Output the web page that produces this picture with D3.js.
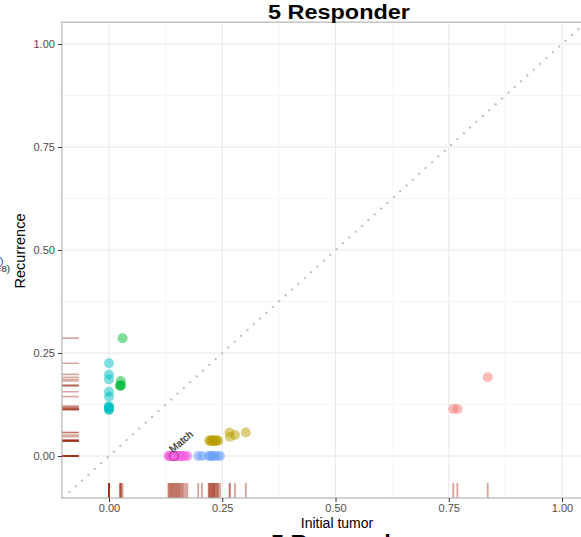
<!DOCTYPE html>
<html>
<head>
<meta charset="utf-8">
<script src="https://cdn.jsdelivr.net/npm/d3@7"></script>
<style>
  html, body { margin: 0; padding: 0; background: #fff; }
  svg { display: block; }
  text { font-family: "Liberation Sans", Arial, Helvetica, sans-serif; }
</style>
</head>
<body>
<svg id="chart" width="581" height="537"></svg>
<script>
// ---- data ----
const groups = ["A", "B", "C", "D", "E", "F"];
const groupColors = ["#F8766D", "#B79F00", "#00BA38", "#00BFC4", "#619CFF", "#F564E3"];

const salmonX = [0.836, 0.760, 0.769];
const salmonY = [0.191, 0.114, 0.114];

const oliveX = [0.221, 0.224, 0.226, 0.228, 0.230, 0.232, 0.234, 0.236, 0.238, 0.241, 0.266, 0.267, 0.278, 0.302];
const oliveY = [0.037, 0.038, 0.036, 0.038, 0.037, 0.036, 0.038, 0.037, 0.038, 0.037, 0.057, 0.047, 0.051, 0.057];

const greenX = [0.030, 0.026, 0.024, 0.027, 0.025];
const greenY = [0.286, 0.182, 0.171, 0.172, 0.170];

const cyanX = [0, 0, 0, 0, 0, 0, 0, 0, 0, 0, 0];
const cyanY = [0.225, 0.198, 0.186, 0.156, 0.144, 0.121, 0.119, 0.117, 0.115, 0.113, 0.112];

const blueX = [0.197, 0.205, 0.220, 0.223, 0.228, 0.232, 0.240, 0.245];
const blueY = [0, 0, 0, 0, 0, 0, 0, 0];

const magentaX = [0.131, 0.133, 0.135, 0.137, 0.139, 0.141, 0.143, 0.145, 0.147, 0.149, 0.151, 0.153, 0.155, 0.157, 0.160, 0.162, 0.165, 0.169, 0.173];
const magentaY = [0, 0, 0, 0, 0, 0, 0, 0, 0, 0, 0, 0, 0, 0, 0, 0, 0, 0, 0];

const highlightX = [0.143];
const highlightY = [0];
const highlightLabel = ["Match"];

const tickValues = [0, 0.25, 0.5, 0.75, 1.0];
const tickLabels = ["0.00", "0.25", "0.50", "0.75", "1.00"];
const minorTicks = [-0.125, 0.125, 0.375, 0.625, 0.875];

const titleText = "5 Responder";
const xLabel = "Initial tumor";
const yLabel = "Recurrence";

// ---- build ----
const seriesX = [salmonX, oliveX, greenX, cyanX, blueX, magentaX];
const seriesY = [salmonY, oliveY, greenY, cyanY, blueY, magentaY];
const points = [];
seriesX.forEach((xs, gi) => xs.forEach((xv, i) => points.push({g: gi, x: xv, y: seriesY[gi][i]})));

const svg = d3.select("#chart");
const x = d3.scaleLinear().domain([0, 1]).range([109, 562]);
const y = d3.scaleLinear().domain([0, 1]).range([456, 44]);
const xMin = -0.104, xMax = 1.053, yMin = -0.102, yMax = 1.053;
const pL = x(xMin), pR = x(xMax), pT = y(yMax), pB = y(yMin);

svg.append("defs").append("clipPath").attr("id", "clip")
  .append("rect").attr("x", pL).attr("y", pT).attr("width", pR - pL).attr("height", pB - pT);

const panel = svg.append("g").attr("clip-path", "url(#clip)");
panel.append("rect").attr("x", pL).attr("y", pT).attr("width", pR - pL).attr("height", pB - pT).attr("fill", "#fff");

// minor grid
panel.selectAll(".mgx").data(minorTicks).join("line")
  .attr("x1", d => x(d)).attr("x2", d => x(d)).attr("y1", pT).attr("y2", pB)
  .attr("stroke", "#f3f3f3").attr("stroke-width", 0.8);
panel.selectAll(".mgy").data(minorTicks).join("line")
  .attr("y1", d => y(d)).attr("y2", d => y(d)).attr("x1", pL).attr("x2", pR)
  .attr("stroke", "#f3f3f3").attr("stroke-width", 0.8);
// major grid
panel.selectAll(".gx").data(tickValues).join("line")
  .attr("x1", d => x(d)).attr("x2", d => x(d)).attr("y1", pT).attr("y2", pB)
  .attr("stroke", "#e8e8e8").attr("stroke-width", 1);
panel.selectAll(".gy").data(tickValues).join("line")
  .attr("y1", d => y(d)).attr("y2", d => y(d)).attr("x1", pL).attr("x2", pR)
  .attr("stroke", "#e8e8e8").attr("stroke-width", 1);

// diagonal y = x
panel.append("line")
  .attr("x1", x(-0.2)).attr("y1", y(-0.2)).attr("x2", x(1.2)).attr("y2", y(1.2))
  .attr("stroke", "#bdbdbd").attr("stroke-width", 2.2)
  .attr("stroke-dasharray", "0.1,8.5").attr("stroke-linecap", "round");

// rugs
const rugColor = "#a2341c";
panel.selectAll(".rugx").data(points).join("line")
  .attr("x1", d => x(d.x)).attr("x2", d => x(d.x))
  .attr("y1", pB).attr("y2", pB - 15)
  .attr("stroke", rugColor).attr("stroke-opacity", 0.45).attr("stroke-width", 1.8);
panel.selectAll(".rugy").data(points).join("line")
  .attr("y1", d => y(d.y)).attr("y2", d => y(d.y))
  .attr("x1", pL).attr("x2", pL + 17)
  .attr("stroke", rugColor).attr("stroke-opacity", 0.42).attr("stroke-width", 1.6);

// points
panel.selectAll(".pt").data(points).join("circle")
  .attr("cx", d => x(d.x)).attr("cy", d => y(d.y)).attr("r", 5)
  .attr("fill", d => groupColors[d.g]).attr("fill-opacity", 0.5);

// highlight
panel.selectAll(".hl").data(highlightX).join("circle")
  .attr("cx", d => x(d)).attr("cy", (d, i) => y(highlightY[i])).attr("r", 4.5)
  .attr("fill", "none").attr("stroke", "#a8327f").attr("stroke-width", 1);
panel.selectAll(".hlt").data(highlightX).join("text")
  .attr("transform", (d, i) => `translate(${x(d) - 1},${y(highlightY[i]) - 3}) rotate(-40)`)
  .attr("font-size", 10).attr("fill", "#222").attr("stroke", "#555").attr("stroke-width", 0.3)
  .text((d, i) => highlightLabel[i]);

// panel border
svg.append("rect").attr("x", pL).attr("y", pT).attr("width", pR - pL).attr("height", pB - pT)
  .attr("fill", "none").attr("stroke", "#b5b5b5").attr("stroke-width", 1.2);

// axes
const xAxis = svg.append("g").attr("transform", `translate(0,${pB})`)
  .call(d3.axisBottom(x).tickValues(tickValues).tickFormat((d, i) => tickLabels[i]).tickSize(4).tickPadding(2));
const yAxis = svg.append("g").attr("transform", `translate(${pL},0)`)
  .call(d3.axisLeft(y).tickValues(tickValues).tickFormat((d, i) => tickLabels[i]).tickSize(4).tickPadding(3));
[xAxis, yAxis].forEach(a => {
  a.select(".domain").remove();
  a.selectAll(".tick line").attr("stroke", "#333");
  a.selectAll(".tick text").attr("fill", "#4d4d4d").attr("font-size", 11)
    .style("font-family", "'Liberation Sans', Arial, sans-serif");
});

// titles
svg.append("text").attr("x", 268).attr("y", 19)
  .attr("font-size", 19.5).attr("font-weight", "bold").attr("fill", "#000")
  .attr("textLength", 142).attr("lengthAdjust", "spacingAndGlyphs").text(titleText);
svg.append("text").attr("x", 337).attr("y", 527.5).attr("text-anchor", "middle")
  .attr("font-size", 14).attr("fill", "#000").text(xLabel);
svg.append("text").attr("transform", "translate(25,251) rotate(-90)").attr("text-anchor", "middle")
  .attr("font-size", 14.5).attr("fill", "#000").text(yLabel);
// next panel title, partly visible at the bottom edge
svg.append("text").attr("x", 271).attr("y", 549)
  .attr("font-size", 19.5).attr("font-weight", "bold").attr("fill", "#000")
  .attr("textLength", 142).attr("lengthAdjust", "spacingAndGlyphs").text(titleText);
// legend remnants at far left (partly visible)
svg.append("text").attr("x", 10).attr("y", 272).attr("text-anchor", "end")
  .attr("font-size", 9.5).attr("fill", "#222").text("(n=8)");
svg.append("circle").attr("cx", -3).attr("cy", 262).attr("r", 5.5)
  .attr("fill", "none").attr("stroke", "#3b6fc4").attr("stroke-width", 1.2);
</script>
</body>
</html>
